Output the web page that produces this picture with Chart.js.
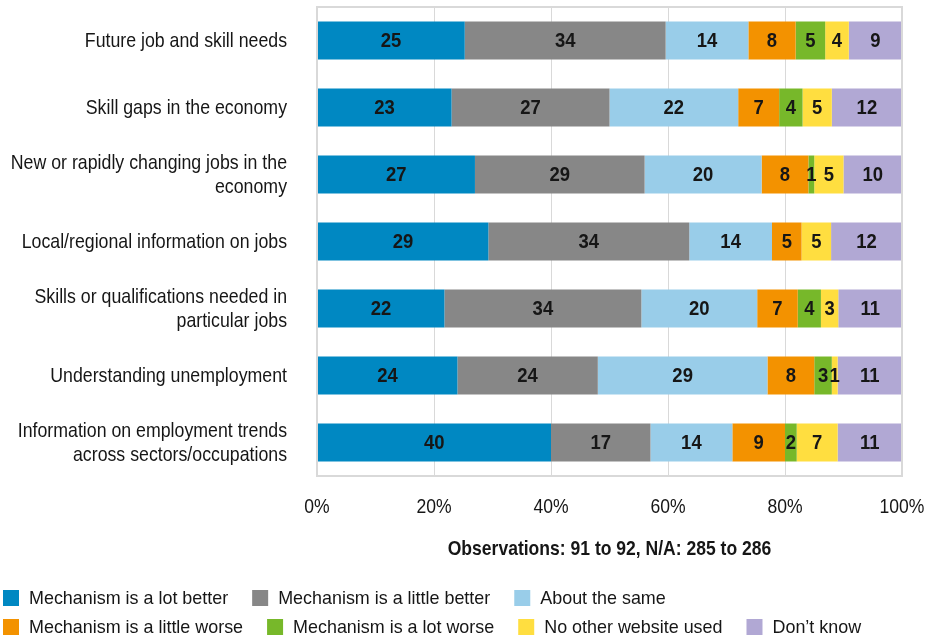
<!DOCTYPE html>
<html>
<head>
<meta charset="utf-8">
<script src="https://cdn.jsdelivr.net/npm/chart.js@4"></script>
<style>
  html, body { margin: 0; padding: 0; background: #fff; }
  #wrap { position: relative; width: 940px; height: 637px; }
</style>
</head>
<body>
<div id="wrap"><canvas id="chart"></canvas></div>
<script>
const categories = [
  ['Future job and skill needs'],
  ['Skill gaps in the economy'],
  ['New or rapidly changing jobs in the', 'economy'],
  ['Local/regional information on jobs'],
  ['Skills or qualifications needed in', 'particular jobs'],
  ['Understanding unemployment'],
  ['Information on employment trends', 'across sectors/occupations']
];
const seriesNames = [
  'Mechanism is a lot better',
  'Mechanism is a little better',
  'About the same',
  'Mechanism is a little worse',
  'Mechanism is a lot worse',
  'No other website used',
  'Don\u2019t know'
];
const lotBetter    = [25, 23, 27, 29, 22, 24, 40];
const littleBetter = [34, 27, 29, 34, 34, 24, 17];
const aboutSame    = [14, 22, 20, 14, 20, 29, 14];
const littleWorse  = [8, 7, 8, 5, 7, 8, 9];
const lotWorse     = [5, 4, 1, 0, 4, 3, 2];
const noOther      = [4, 5, 5, 5, 3, 1, 7];
const dontKnow     = [9, 12, 10, 12, 11, 11, 11];
const tickValues = [0, 20, 40, 60, 80, 100];
const tickLabels = ['0%', '20%', '40%', '60%', '80%', '100%'];
const axisTitle = 'Observations: 91 to 92, N/A: 285 to 286';
const colors = ['#0088c2', '#878787', '#99cde9', '#f39200', '#77b82a', '#ffde40', '#b1a8d4'];

const series = [lotBetter, littleBetter, aboutSame, littleWorse, lotWorse, noOther, dontKnow];
// 100% stacked: each row scaled by its own total
const totals = categories.map((c, i) => series.reduce((s, arr) => s + arr[i], 0));

const datasets = series.map((arr, k) => ({
  label: seriesNames[k],
  raw: arr,
  data: arr.map((v, i) => v / totals[i] * 100),
  backgroundColor: colors[k],
  borderWidth: 0,
  barPercentage: 0.567,
  categoryPercentage: 1
}));

const FONT = '"Liberation Sans", Arial, sans-serif';
const INK = '#161616';

// narrow type: the original uses a condensed face, so squeeze a regular one
function squeezed(ctx, text, x, y, font, sx, align) {
  ctx.save();
  ctx.font = font;
  ctx.fillStyle = INK;
  ctx.textAlign = align;
  ctx.textBaseline = 'middle';
  ctx.translate(x, y);
  ctx.scale(sx, 1);
  ctx.fillText(text, 0, 0);
  ctx.restore();
}

const valueLabels = {
  id: 'valueLabels',
  afterDatasetsDraw(chart) {
    const ctx = chart.ctx;
    chart.data.datasets.forEach((ds, k) => {
      chart.getDatasetMeta(k).data.forEach((bar, i) => {
        const v = ds.raw[i];
        if (!v) return;
        squeezed(ctx, String(v), (bar.x + bar.base) / 2, bar.y + 1, 'bold 21px ' + FONT, 0.88, 'center');
      });
    });
  }
};

const frameAndText = {
  id: 'frameAndText',
  afterDraw(chart) {
    const a = chart.chartArea, ctx = chart.ctx;
    ctx.save();
    ctx.strokeStyle = '#d9d9d9';
    ctx.lineWidth = 2;
    ctx.strokeRect(a.left, a.top, a.right - a.left, a.bottom - a.top);
    ctx.restore();

    // category labels
    const ys = chart.scales.y;
    categories.forEach((lines, i) => {
      const cy = ys.getPixelForValue(i);
      const start = cy - (lines.length - 1) * 12;
      lines.forEach((t, j) => {
        squeezed(ctx, t, 287, start + j * 24 + 1, '21px ' + FONT, 0.845, 'right');
      });
    });

    // value axis labels and title
    const xs = chart.scales.x;
    tickValues.forEach((v, i) => {
      squeezed(ctx, tickLabels[i], xs.getPixelForValue(v), 508, '19.5px ' + FONT, 0.9, 'center');
    });
    squeezed(ctx, axisTitle, (a.left + a.right) / 2, 549, 'bold 21px ' + FONT, 0.835, 'center');

    // legend, two rows
    const rows = [[0, 1, 2], [3, 4, 5, 6]];
    const rowY = [598, 627];
    const lf = '19px ' + FONT, lsx = 0.943;
    rows.forEach((row, r) => {
      let x = 3;
      row.forEach(k => {
        ctx.fillStyle = colors[k];
        ctx.fillRect(x, rowY[r] - 8, 16, 16);
        squeezed(ctx, seriesNames[k], x + 26, rowY[r] + 1, lf, lsx, 'left');
        ctx.save();
        ctx.font = lf;
        const w = ctx.measureText(seriesNames[k]).width * lsx;
        ctx.restore();
        x += 26 + w + 24;
      });
    });
  }
};

new Chart(document.getElementById('chart'), {
  type: 'bar',
  data: { labels: categories.map(l => l.join(' ')), datasets: datasets },
  options: {
    indexAxis: 'y',
    responsive: true,
    maintainAspectRatio: false,
    animation: false,
    layout: { padding: { top: 7, right: 38, left: 0, bottom: 161 } },
    plugins: {
      legend: { display: false },
      tooltip: { enabled: false }
    },
    scales: {
      x: {
        stacked: true,
        min: 0,
        max: 100,
        grid: { color: '#d9d9d9', drawTicks: false },
        border: { display: false },
        ticks: { stepSize: 20, display: false },
        afterFit: (scale) => { scale.height = 0; }
      },
      y: {
        stacked: true,
        grid: { display: false, drawTicks: false },
        border: { display: false },
        ticks: { display: false },
        afterFit: (scale) => { scale.width = 317; }
      }
    }
  },
  plugins: [valueLabels, frameAndText]
});
</script>
</body>
</html>
